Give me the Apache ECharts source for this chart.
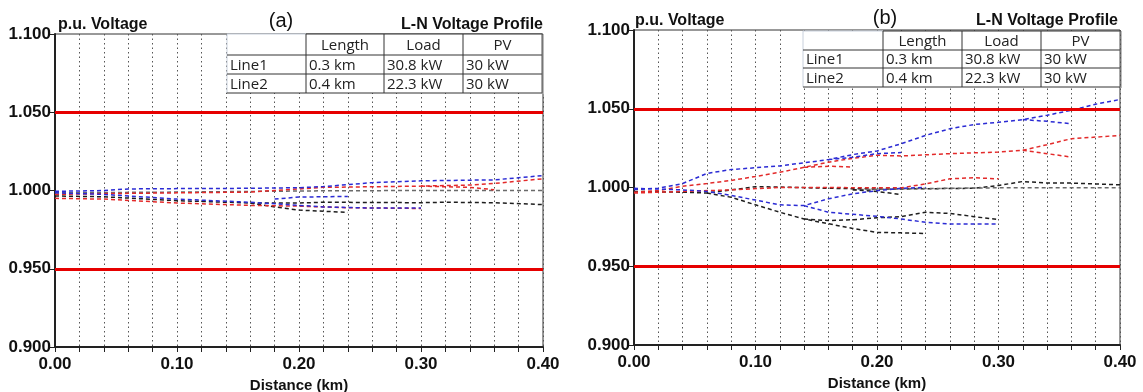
<!DOCTYPE html>
<html>
<head>
<meta charset="utf-8">
<script src="https://cdn.jsdelivr.net/npm/echarts@6/dist/echarts.min.js"></script>
<style>
  html, body { margin: 0; background: #fff; }
  #main { width: 1143px; height: 392px; }
</style>
</head>
<body>
<div id="main"></div>
<script>
// ---- panel (a) voltage profiles [distance km, p.u.] ----
const aBlue1 = [[0, 0.9995], [0.02, 0.9997], [0.04, 1.0000], [0.06, 1.0010], [0.10, 1.0012], [0.16, 1.0014], [0.20, 1.0018], [0.22, 1.0025], [0.26, 1.0050], [0.30, 1.0062], [0.36, 1.0068], [0.40, 1.0095]];
const aRed1 = [[0, 0.9975], [0.04, 0.9980], [0.10, 0.9985], [0.16, 0.9990], [0.18, 1.0000], [0.22, 1.0020], [0.30, 1.0028], [0.34, 1.0035], [0.36, 1.0045], [0.40, 1.0075]];
const aRed2 = [[0.30, 1.0028], [0.34, 1.0020], [0.36, 1.0005]];
const aBlack1 = [[0, 0.9985], [0.10, 0.9990], [0.22, 0.9998], [0.30, 1.0000], [0.40, 1.0000]];
const aBlack2 = [[0, 0.9965], [0.04, 0.9960], [0.10, 0.9935], [0.16, 0.9920], [0.20, 0.9920], [0.22, 0.9925], [0.30, 0.9922], [0.32, 0.9925], [0.36, 0.9922], [0.40, 0.9910]];
const aBlack3 = [[0.16, 0.9920], [0.18, 0.9895], [0.20, 0.9875], [0.24, 0.9860]];
const aBlue2 = [[0, 0.9985], [0.04, 0.9975], [0.10, 0.9945], [0.16, 0.9925], [0.20, 0.9905], [0.22, 0.9895], [0.26, 0.9888], [0.30, 0.9888]];
const aBlue3 = [[0.18, 0.9945], [0.20, 0.9958], [0.24, 0.9962]];
const aRed3 = [[0, 0.9950], [0.04, 0.9945], [0.10, 0.9920], [0.16, 0.9905], [0.20, 0.9900], [0.24, 0.9890], [0.30, 0.9885]];

// ---- panel (b) voltage profiles ----
const bBlue1 = [[0, 0.9987], [0.02, 0.9995], [0.04, 1.0025], [0.06, 1.0089], [0.08, 1.0114], [0.12, 1.0137], [0.16, 1.0177], [0.18, 1.0209], [0.20, 1.0232], [0.22, 1.0278], [0.24, 1.0331], [0.26, 1.0373], [0.28, 1.0400], [0.30, 1.0414], [0.32, 1.0431], [0.34, 1.0459], [0.36, 1.0490], [0.38, 1.0529], [0.40, 1.0559]];
const bBlue4 = [[0.16, 1.0177], [0.18, 1.0192], [0.20, 1.0215], [0.22, 1.0222]];
const bBlue5 = [[0.32, 1.0431], [0.34, 1.0420], [0.36, 1.0405]];
const bRed1 = [[0, 0.9970], [0.02, 0.9980], [0.04, 1.0008], [0.06, 1.0025], [0.08, 1.0045], [0.10, 1.0070], [0.12, 1.0097], [0.14, 1.0128], [0.16, 1.0161], [0.18, 1.0185], [0.20, 1.0205], [0.22, 1.0200], [0.26, 1.0215], [0.30, 1.0225], [0.32, 1.0236], [0.34, 1.0272], [0.36, 1.0310], [0.38, 1.0320], [0.40, 1.0331]];
const bRed3 = [[0.14, 1.0128], [0.16, 1.0135], [0.18, 1.0130]];
const bRed4 = [[0.32, 1.0236], [0.34, 1.0215], [0.36, 1.0193]];
const bRed2 = [[0, 0.9965], [0.04, 0.9975], [0.08, 0.9985], [0.12, 1.0000], [0.16, 1.0000], [0.20, 0.9998], [0.22, 0.9998], [0.24, 1.0023], [0.26, 1.0055], [0.28, 1.0062], [0.30, 1.0055]];
const bBlack1 = [[0, 0.9975], [0.04, 0.9970], [0.06, 0.9965], [0.08, 0.9985], [0.10, 1.0005], [0.12, 1.0003], [0.16, 0.9995], [0.20, 0.9990], [0.24, 0.9992], [0.28, 0.9995], [0.30, 1.0013], [0.32, 1.0038], [0.34, 1.0028], [0.36, 1.0028], [0.40, 1.0017]];
const bBlack2 = [[0.18, 0.9985], [0.22, 0.9992], [0.30, 0.9998], [0.40, 0.9998]];
const bBlack5 = [[0.18, 0.9985], [0.20, 0.9975], [0.22, 0.9955]];
const bBlack3 = [[0.06, 0.9965], [0.08, 0.9938], [0.10, 0.9890], [0.12, 0.9843], [0.14, 0.9800], [0.16, 0.9770], [0.18, 0.9740], [0.20, 0.9715], [0.22, 0.9712], [0.24, 0.9708]];
const bBlack4 = [[0.14, 0.9800], [0.16, 0.9790], [0.18, 0.9795], [0.20, 0.9808], [0.22, 0.9815], [0.24, 0.9843], [0.26, 0.9835], [0.28, 0.9815], [0.30, 0.9796]];
const bBlue2 = [[0, 0.9995], [0.04, 0.9985], [0.06, 0.9975], [0.08, 0.9950], [0.10, 0.9920], [0.12, 0.9890], [0.14, 0.9885], [0.16, 0.9928], [0.18, 0.9960], [0.20, 0.9980], [0.22, 0.9995], [0.24, 1.0000]];
const bBlue3 = [[0.14, 0.9885], [0.16, 0.9843], [0.18, 0.9830], [0.20, 0.9817], [0.22, 0.9800], [0.24, 0.9779], [0.26, 0.9768], [0.30, 0.9768]];

const limits = [1.05, 0.95];
const tableHead = ['', 'Length', 'Load', 'PV'];
const tableRows = [
  ['Line1', '0.3 km', '30.8 kW', '30 kW'],
  ['Line2', '0.4 km', '22.3 kW', '30 kW']
];

const BLUE = '#2b2bd4', RED = '#e32a2a', BLACK = '#1e1e1e', GREY = '#6a6a6a';
const FONT = '"Liberation Sans", Arial, sans-serif';
const TFONT = '"Open Sans", sans-serif';

const chart = echarts.init(document.getElementById('main'));

function line(data, color, gi) {
  return {
    type: 'line', xAxisIndex: gi, yAxisIndex: gi, data: data,
    symbol: 'none', silent: true, z: 3,
    lineStyle: {color: color, width: 1.5, type: [4, 3]}
  };
}

function limitLines(gi) {
  return {
    type: 'line', xAxisIndex: gi, yAxisIndex: gi, data: [], z: 4,
    markLine: {
      symbol: 'none', silent: true, label: {show: false},
      lineStyle: {color: '#e60000', width: 3, type: 'solid'},
      data: limits.map(v => ({yAxis: v}))
    }
  };
}

function xAxis(gi) {
  return {
    type: 'value', gridIndex: gi, min: 0, max: 0.4, interval: 0.02,
    name: 'Distance (km)', nameLocation: 'middle', nameGap: 27,
    nameTextStyle: {fontFamily: FONT, fontWeight: 'bold', fontSize: 15, color: '#111'},
    axisLine: {lineStyle: {color: '#222', width: 2}},
    axisTick: {length: 5, lineStyle: {color: '#222'}},
    axisLabel: {
      fontFamily: FONT, fontWeight: 'bold', fontSize: 17, color: '#111', margin: 9,
      formatter: v => (Math.round(v * 100) % 10 === 0 ? v.toFixed(2) : '')
    },
    splitLine: {show: true, lineStyle: {color: '#555', width: 1, type: [1.5, 3]}}
  };
}

function yAxis(gi) {
  return {
    type: 'value', gridIndex: gi, min: 0.9, max: 1.1, interval: 0.05,
    axisLine: {show: true, lineStyle: {color: '#222', width: 2}},
    axisTick: {show: true, length: 5, lineStyle: {color: '#222'}},
    axisLabel: {fontFamily: FONT, fontWeight: 'bold', fontSize: 17, color: '#111', margin: 4,
      formatter: v => v.toFixed(3)},
    splitLine: {show: false}
  };
}

function txt(x, y, s, opts) {
  return {
    type: 'text', x: x, y: y, z: 100, silent: true,
    style: Object.assign({text: s, fill: '#111', font: 'bold 16px ' + FONT,
      textAlign: 'left', textVerticalAlign: 'middle'}, opts || {})
  };
}

function seg(x1, y1, x2, y2, color) {
  return {type: 'line', z: 101, silent: true, shape: {x1: x1, y1: y1, x2: x2, y2: y2},
    style: {stroke: color, lineWidth: 1}};
}

// small table drawn over the plot
function table(cols, rows) {
  const els = [];
  els.push({type: 'rect', z: 100, silent: true,
    shape: {x: cols[0], y: rows[0], width: cols[4] - cols[0], height: rows[3] - rows[0]},
    style: {fill: '#fff'}});
  els.push(seg(cols[0], rows[0], cols[1], rows[0], '#c8d0dc'));
  els.push(seg(cols[1], rows[0], cols[4], rows[0], '#333'));
  els.push(seg(cols[0], rows[0], cols[0], rows[3], '#c8d0dc'));
  for (let r = 1; r < 4; r++) els.push(seg(cols[0], rows[r], cols[4], rows[r], '#333'));
  for (let c = 1; c < 5; c++) els.push(seg(cols[c], rows[0], cols[c], rows[3], c === 4 ? '#555' : '#333'));
  els.push(seg(cols[4] + 1.5, rows[0], cols[4] + 1.5, rows[3] + 1, '#bbb'));
  tableHead.forEach((h, c) => {
    if (h) els.push(txt((cols[c] + cols[c + 1]) / 2, (rows[0] + rows[1]) / 2 + 1, h,
      {font: '15px ' + TFONT, fill: '#222', textAlign: 'center'}));
  });
  tableRows.forEach((row, r) => {
    row.forEach((s, c) => {
      els.push(txt(cols[c] + 3, (rows[r + 1] + rows[r + 2]) / 2 + 1, s,
        {font: '15px ' + TFONT, fill: '#222'}));
    });
  });
  return els;
}

const option = {
  backgroundColor: '#fff',
  animation: false,
  grid: [
    {left: 55, right: 600, top: 34, bottom: 45, show: true, borderColor: '#333', borderWidth: 1, outerBoundsMode: 'none'},
    {left: 634, right: 23, top: 30, bottom: 47, show: true, borderColor: '#333', borderWidth: 1, outerBoundsMode: 'none'}
  ],
  xAxis: [xAxis(0), xAxis(1)],
  yAxis: [yAxis(0), yAxis(1)],
  series: [
    line(aBlack1, GREY, 0), line(aBlack2, BLACK, 0), line(aBlack3, BLACK, 0),
    line(aRed1, RED, 0), line(aRed2, RED, 0), line(aRed3, RED, 0),
    line(aBlue1, BLUE, 0), line(aBlue2, BLUE, 0), line(aBlue3, BLUE, 0),
    limitLines(0),
    line(bBlack1, BLACK, 1), line(bBlack2, GREY, 1), line(bBlack3, BLACK, 1), line(bBlack4, BLACK, 1), line(bBlack5, BLACK, 1),
    line(bRed1, RED, 1), line(bRed2, RED, 1), line(bRed3, RED, 1), line(bRed4, RED, 1),
    line(bBlue1, BLUE, 1), line(bBlue2, BLUE, 1), line(bBlue3, BLUE, 1), line(bBlue4, BLUE, 1), line(bBlue5, BLUE, 1),
    limitLines(1)
  ],
  graphic: [
    txt(58, 25, 'p.u. Voltage'),
    txt(281, 21, '(a)', {font: '20px ' + FONT, textAlign: 'center'}),
    txt(543, 25, 'L-N Voltage Profile', {textAlign: 'right'}),
    txt(635, 21, 'p.u. Voltage'),
    txt(885, 18, '(b)', {font: '20px ' + FONT, textAlign: 'center'}),
    txt(1118, 21, 'L-N Voltage Profile', {textAlign: 'right'})
  ].concat(table([227, 306, 384, 463, 542], [34, 55, 74, 93]))
   .concat(table([803, 883, 962, 1041, 1120], [31, 50, 68, 87]))
};

chart.setOption(option);
</script>
</body>
</html>
